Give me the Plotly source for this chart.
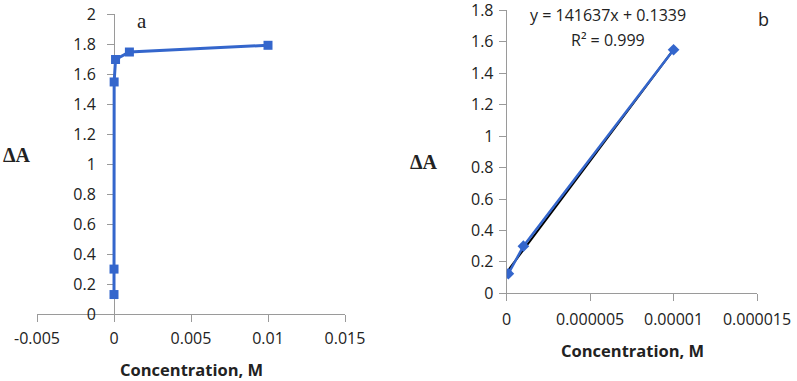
import plotly.graph_objects as go

# Data
conc_a = [1e-7, 1e-6, 1e-5, 1e-4, 1e-3, 1e-2]
dA_a = [0.13, 0.30, 1.55, 1.70, 1.75, 1.795]

conc_b = [1e-7, 1e-6, 1e-5]
dA_b = [0.125, 0.30, 1.55]

slope = 141637
intercept = 0.1339
eq_text = "y = 141637x + 0.1339"
r2_text = "R² = 0.999"

xticks_a = [-0.005, 0, 0.005, 0.01, 0.015]
xticklabels_a = ["-0.005", "0", "0.005", "0.01", "0.015"]
yticks_a = [0, 0.2, 0.4, 0.6, 0.8, 1, 1.2, 1.4, 1.6, 1.8, 2]
yticklabels_a = ["0", "0.2", "0.4", "0.6", "0.8", "1", "1.2", "1.4", "1.6", "1.8", "2"]

xticks_b = [0, 0.000005, 0.00001, 0.000015]
xticklabels_b = ["0", "0.000005", "0.00001", "0.000015"]
yticks_b = [0, 0.2, 0.4, 0.6, 0.8, 1, 1.2, 1.4, 1.6, 1.8]
yticklabels_b = ["0", "0.2", "0.4", "0.6", "0.8", "1", "1.2", "1.4", "1.6", "1.8"]

BLUE = "#3466CC"
AXIS = "#9a9a9a"
W, H = 797, 381
TICKFONT = dict(family="Open Sans, Liberation Sans, sans-serif", size=16, color="#222222")

fig = go.Figure()

fig.add_trace(go.Scatter(
    x=conc_a, y=dA_a, mode="lines+markers", xaxis="x", yaxis="y",
    line=dict(color=BLUE, width=3),
    marker=dict(symbol="square", size=9, color=BLUE),
    showlegend=False,
))

trend_x = [conc_b[0], conc_b[-1]]
trend_y = [slope * v + intercept for v in trend_x]
fig.add_trace(go.Scatter(
    x=trend_x, y=trend_y, mode="lines", xaxis="x2", yaxis="y2",
    line=dict(color="black", width=2), showlegend=False,
))
fig.add_trace(go.Scatter(
    x=conc_b, y=dA_b, mode="lines+markers", xaxis="x2", yaxis="y2",
    line=dict(color=BLUE, width=2.5),
    marker=dict(symbol="diamond", size=9, color=BLUE),
    showlegend=False,
))

def px_x(p):
    return p / W

def px_y(p):
    return 1 - p / H

common_axis = dict(showgrid=False, zeroline=False, showline=True, linecolor=AXIS,
                   linewidth=1, ticks="outside", tickcolor=AXIS, ticklen=7,
                   tickfont=TICKFONT, automargin=False, layer="below traces",
                   ticklabeloverflow="allow")

fig.update_layout(
    width=W, height=H,
    margin=dict(l=0, r=0, t=0, b=0, autoexpand=False),
    paper_bgcolor="white", plot_bgcolor="white",
    xaxis=dict(domain=[px_x(37), px_x(345)], range=[-0.005, 0.015],
               tickvals=xticks_a, ticktext=xticklabels_a, anchor="y",
               ticklabelstandoff=3, **common_axis),
    yaxis=dict(domain=[px_y(314), px_y(14)], range=[0, 2.004],
               tickvals=yticks_a, ticktext=yticklabels_a,
               anchor="free", position=px_x(114), ticklabelstandoff=8,
               **common_axis),
    xaxis2=dict(domain=[px_x(506.7), px_x(757)], range=[0, 0.000015],
                tickvals=xticks_b, ticktext=xticklabels_b, anchor="y2",
                ticklabelstandoff=4, **common_axis),
    yaxis2=dict(domain=[px_y(293.3), px_y(9.5)], range=[0, 1.806],
                tickvals=yticks_b, ticktext=yticklabels_b, anchor="x2",
                ticklabelstandoff=2, **common_axis),
)

def ann(text, x, y, font, xanchor="center"):
    fig.add_annotation(text=text, x=px_x(x), y=px_y(y), xref="paper", yref="paper",
                       showarrow=False, font=font, xanchor=xanchor, yanchor="middle")

bold_sans = dict(family="Open Sans, Liberation Sans, sans-serif", size=16.5, color="#222222", weight="bold")
serif_bold = dict(family="Liberation Serif, Times New Roman, serif", size=20, color="#222222", weight="bold")
sans = dict(family="Open Sans, Liberation Sans, sans-serif", size=16, color="#222222")

ann("Concentration, M", 191, 369.5, bold_sans)
ann("Concentration, M", 632, 350, bold_sans)
ann("ΔA", 17, 155, serif_bold)
ann("ΔA", 424, 162, serif_bold)
ann("a", 142, 21, dict(family="Liberation Serif, serif", size=21, color="#222222"))
ann("b", 763, 19, dict(family="Open Sans, Liberation Sans, sans-serif", size=18, color="#222222"))
ann(eq_text, 608, 15, sans)
ann(r2_text, 608, 40, sans)

fig.write_html("out.html", config={"displayModeBar": False},
               post_script="document.body.style.margin='0';")
